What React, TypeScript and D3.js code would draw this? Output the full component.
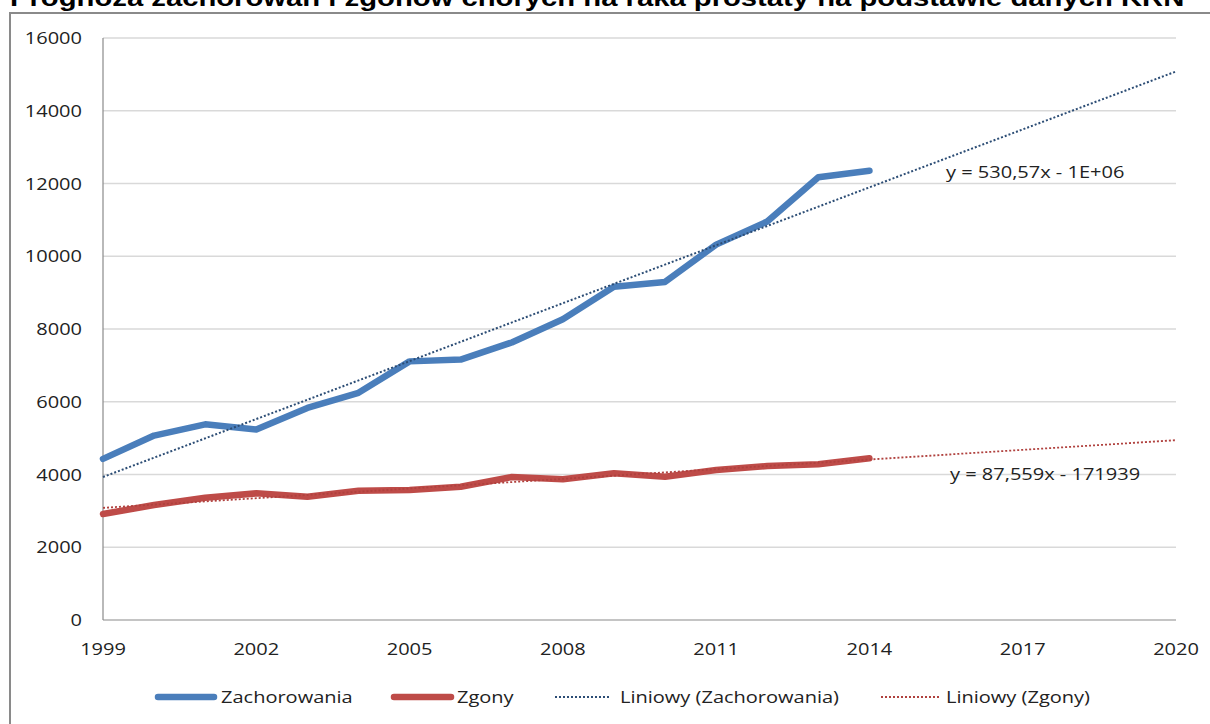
import React from "react";
import * as d3 from "d3";

const TITLE = "Prognoza zachorowań i zgonów chorych na raka prostaty na podstawie danych KRN";
const years = [1999, 2000, 2001, 2002, 2003, 2004, 2005, 2006, 2007, 2008, 2009, 2010, 2011, 2012, 2013, 2014];
const zachorowania = [4430, 5070, 5380, 5235, 5830, 6245, 7110, 7160, 7630, 8270, 9160, 9295, 10320, 10955, 12170, 12350];
const zgony = [2914, 3162, 3363, 3482, 3390, 3555, 3574, 3665, 3930, 3868, 4033, 3940, 4124, 4234, 4280, 4445];
const yTicks = [0, 2000, 4000, 6000, 8000, 10000, 12000, 14000, 16000];
const xTicks = [1999, 2002, 2005, 2008, 2011, 2014, 2017, 2020];
const trendLabels = ["y = 530,57x - 1E+06", "y = 87,559x - 171939"];
const legendLabels = ["Zachorowania", "Zgony", "Liniowy (Zachorowania)", "Liniowy (Zgony)"];

const W = 1210;
const H = 724;
const SX = 1.25;
const FONT = "'Open Sans', 'Liberation Sans', sans-serif";
const BLUE = "#4a7ebb";
const RED = "#be4b48";
const BLUE_T = "#2c4d75";
const RED_T = "#b0413e";

function fit(xs: number[], ys: number[]) {
  const mx = d3.mean(xs)!;
  const my = d3.mean(ys)!;
  const num = d3.sum(xs.map((x, i) => (x - mx) * (ys[i] - my)));
  const den = d3.sum(xs.map((x) => (x - mx) * (x - mx)));
  const b = num / den;
  return { b, a: my - b * mx };
}

function T(props: { x: number; y: number; anchor?: string; size?: number; weight?: string; fill?: string; family?: string; children: React.ReactNode }) {
  const { x, y, anchor = "start", size = 16, weight = "normal", fill = "#222", family = FONT } = props;
  return (
    <text
      transform={`translate(${x},${y}) scale(${SX},1)`}
      textAnchor={anchor}
      dominantBaseline="central"
      fontFamily={family}
      fontSize={size}
      fontWeight={weight}
      fill={fill}
    >
      {props.children}
    </text>
  );
}

export default function App() {
  const x = d3.scaleLinear().domain([1999, 2020]).range([103, 1176]);
  const y = d3.scaleLinear().domain([0, 16000]).range([620, 38]);
  const line = d3
    .line<number>()
    .x((_, i) => x(years[i]))
    .y((d) => y(d));
  const f1 = fit(years, zachorowania);
  const f2 = fit(years, zgony);
  const trend = (f: { a: number; b: number }) =>
    d3.line<number>().x((d) => x(d)).y((d) => y(f.a + f.b * d))([1999, 2020]) || "";

  const legendY = 697;
  return (
    <svg width={W} height={H} style={{ position: "absolute", left: 0, top: 0, background: "#fff" }}>
      <rect x={0} y={0} width={W} height={H} fill="#fff" />
      <text
        transform={`translate(10,6) scale(${SX},1)`}
        fontFamily="'Liberation Sans', Arial, sans-serif"
        fontWeight="bold"
        fontSize={23.4}
        fill="#000"
      >
        {TITLE}
      </text>
      <rect x={10} y={13} width={1400} height={900} fill="none" stroke="#8a8a8a" strokeWidth={2} />

      {yTicks.map((t) => (
        <g key={t}>
          {t > 0 && <line x1={103} x2={1176} y1={y(t)} y2={y(t)} stroke="#d9d9d9" strokeWidth={1.5} />}
          <T x={82} y={y(t)} anchor="end">
            {t}
          </T>
        </g>
      ))}
      <line x1={103} x2={103} y1={38} y2={620} stroke="#8a8a8a" strokeWidth={1.2} />
      <line x1={103} x2={1176} y1={620} y2={620} stroke="#8a8a8a" strokeWidth={1.2} />
      {xTicks.map((t) => (
        <T key={t} x={x(t)} y={649} anchor="middle">
          {t}
        </T>
      ))}

      <path d={line(zachorowania) || ""} fill="none" stroke={BLUE} strokeWidth={6.5} strokeLinejoin="round" strokeLinecap="round" />
      <path d={line(zgony) || ""} fill="none" stroke={RED} strokeWidth={6.5} strokeLinejoin="round" strokeLinecap="round" />
      <path d={trend(f1)} fill="none" stroke={BLUE_T} strokeWidth={2} strokeDasharray="2 2" />
      <path d={trend(f2)} fill="none" stroke={RED_T} strokeWidth={1.8} strokeDasharray="2 2" />

      <T x={946} y={172}>{trendLabels[0]}</T>
      <T x={950} y={474}>{trendLabels[1]}</T>

      <line x1={158} x2={214} y1={legendY} y2={legendY} stroke={BLUE} strokeWidth={6.5} strokeLinecap="round" />
      <T x={221} y={legendY}>{legendLabels[0]}</T>
      <line x1={394} x2={451} y1={legendY} y2={legendY} stroke={RED} strokeWidth={6.5} strokeLinecap="round" />
      <T x={457} y={legendY}>{legendLabels[1]}</T>
      <line x1={555} x2={611} y1={legendY} y2={legendY} stroke={BLUE_T} strokeWidth={2} strokeDasharray="2 2" />
      <T x={620} y={legendY}>{legendLabels[2]}</T>
      <line x1={881} x2={939} y1={legendY} y2={legendY} stroke={RED_T} strokeWidth={1.8} strokeDasharray="2 2" />
      <T x={946} y={legendY}>{legendLabels[3]}</T>
    </svg>
  );
}
